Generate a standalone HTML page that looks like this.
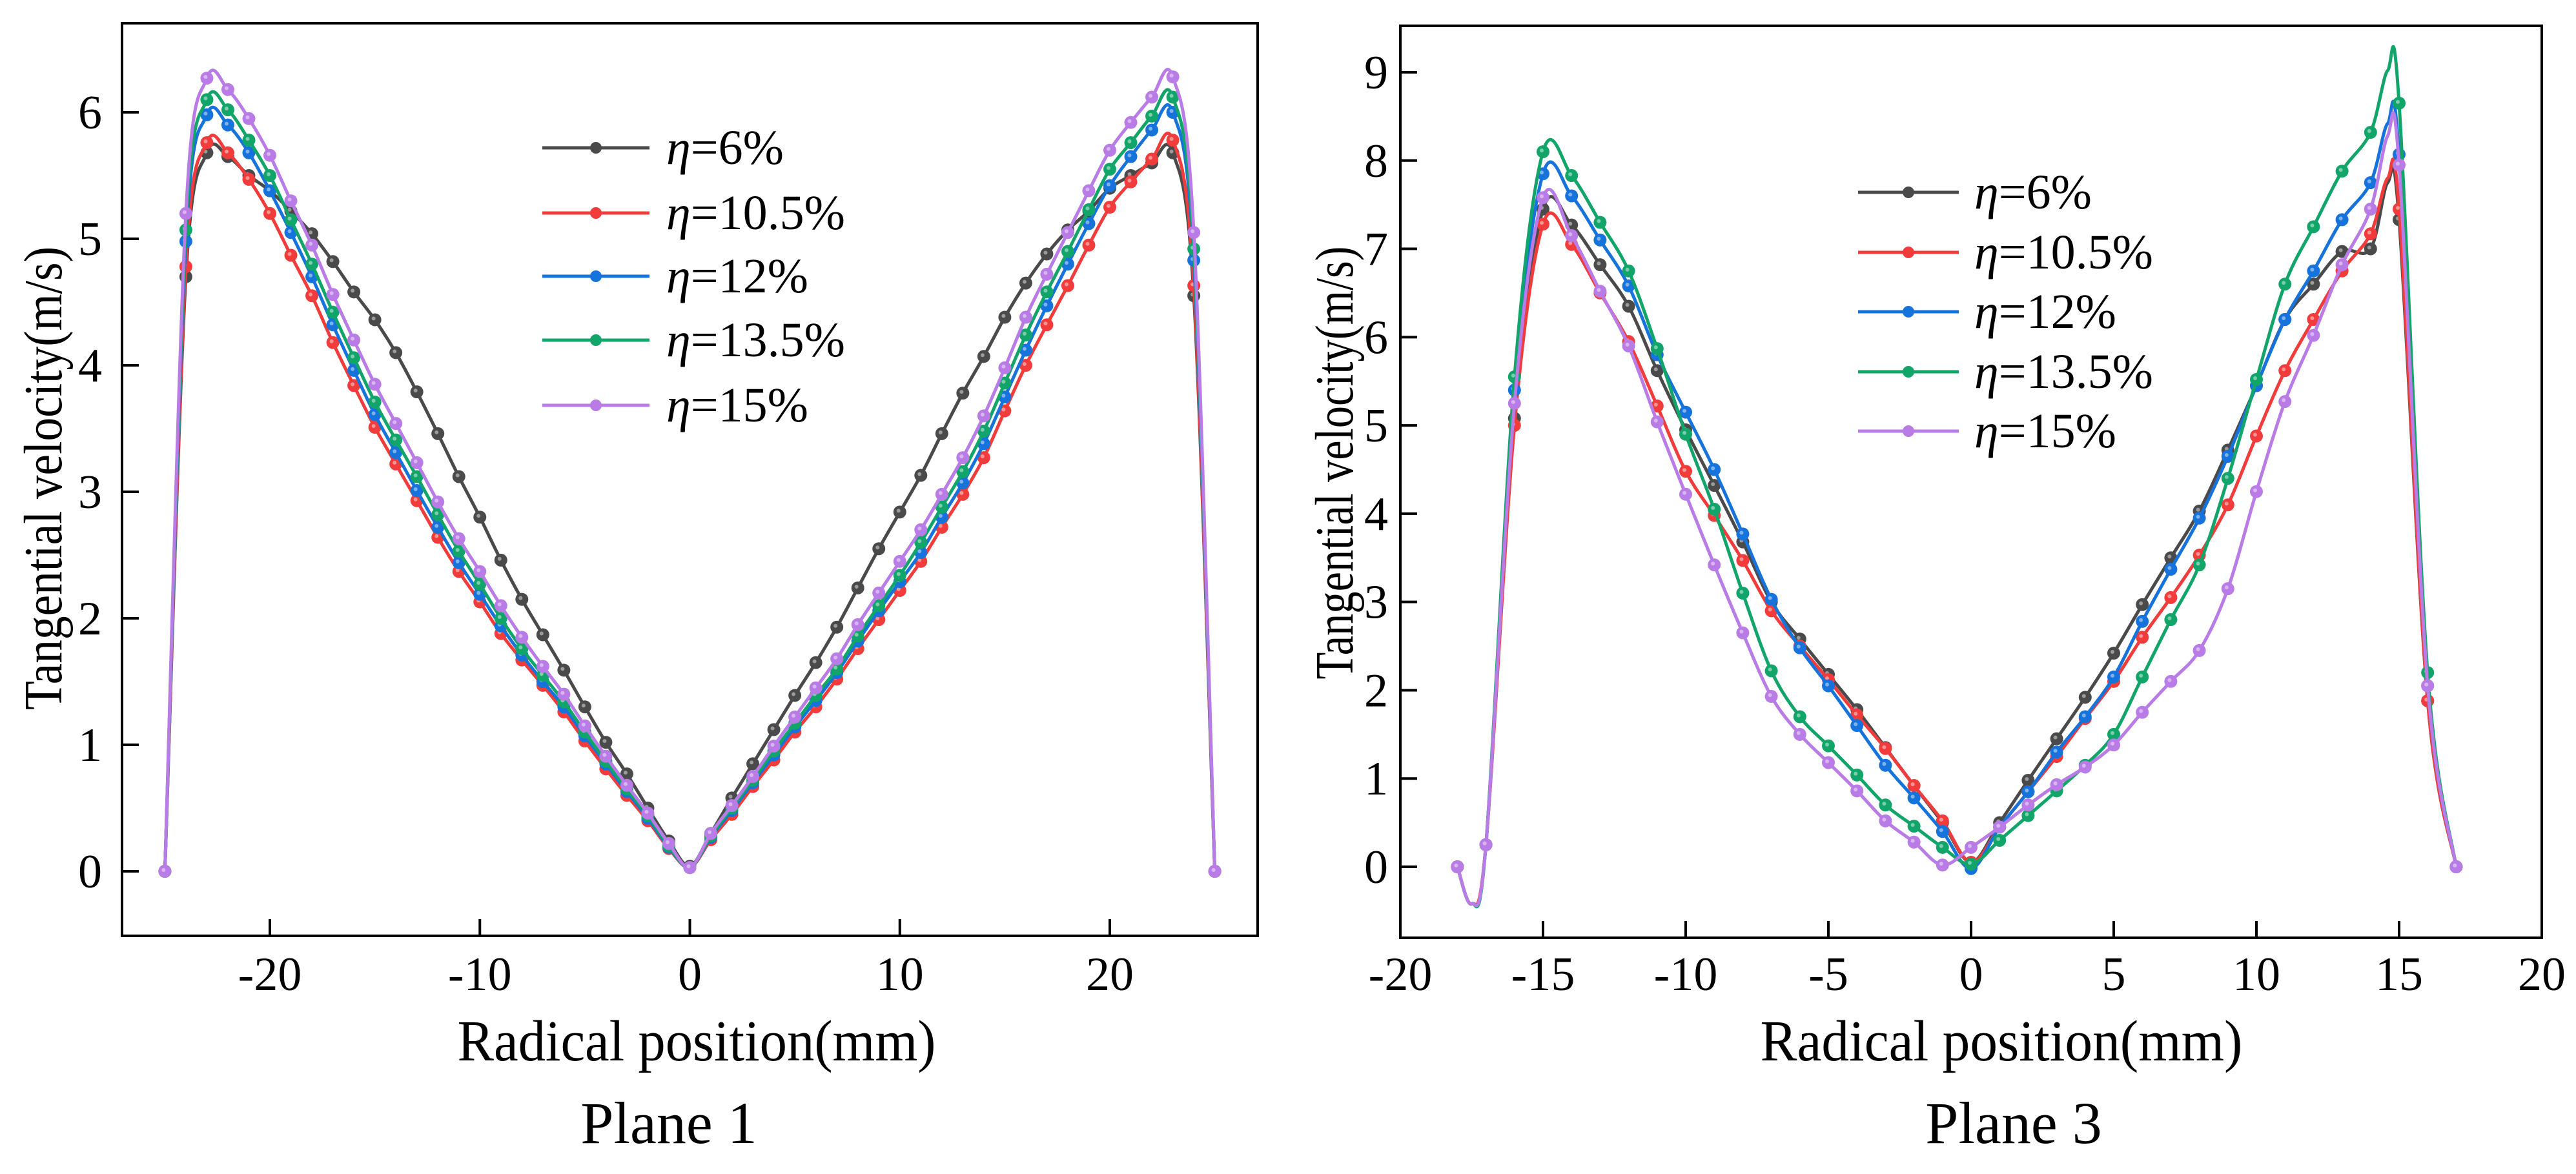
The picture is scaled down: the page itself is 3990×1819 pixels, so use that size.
<!DOCTYPE html>
<html><head><meta charset="utf-8">
<style>
html,body{margin:0;padding:0;background:#fff;}
svg{display:block;}
text{font-family:"Liberation Serif",serif;fill:#000;}
</style></head>
<body>
<svg id="chart" width="3990" height="1819" viewBox="0 0 3990 1819" xmlns="http://www.w3.org/2000/svg"></svg>
<script>
const NS="http://www.w3.org/2000/svg";
const svg=document.getElementById('chart');
const seriesNames=["η=6%","η=10.5%","η=12%","η=13.5%","η=15%"];
const seriesLabels=["6%","10.5%","12%","13.5%","15%"];
const seriesColors=["#4a4a4a","#f23c3c","#1673dc","#12a56a","#b97ce6"];

// Plane 1 data
const p1X=[-25,-24,-23,-22,-21,-20,-19,-18,-17,-16,-15,-14,-13,-12,-11,-10,-9,-8,-7,-6,-5,-4,-3,-2,-1,0,1,2,3,4,5,6,7,8,9,10,11,12,13,14,15,16,17,18,19,20,21,22,23,24,25];
const p1S1=[0,4.7,5.68,5.65,5.5,5.38,5.22,5.04,4.82,4.58,4.36,4.10,3.79,3.46,3.12,2.80,2.46,2.15,1.87,1.59,1.30,1.02,0.77,0.50,0.24,0.04,0.3,0.58,0.85,1.12,1.39,1.65,1.93,2.24,2.55,2.84,3.13,3.46,3.78,4.07,4.38,4.65,4.88,5.07,5.22,5.4,5.5,5.6,5.68,4.55,0];
const p1S2=[0,4.78,5.76,5.68,5.47,5.2,4.87,4.55,4.18,3.84,3.51,3.22,2.93,2.64,2.37,2.13,1.88,1.67,1.47,1.26,1.03,0.81,0.6,0.4,0.18,0.03,0.25,0.45,0.67,0.88,1.1,1.3,1.52,1.76,1.99,2.22,2.45,2.72,2.98,3.27,3.64,4.0,4.32,4.63,4.95,5.25,5.45,5.63,5.78,4.63,0];
const p1S3=[0,4.98,5.98,5.9,5.68,5.38,5.05,4.7,4.32,3.96,3.61,3.31,3.01,2.72,2.44,2.19,1.94,1.71,1.5,1.3,1.07,0.85,0.63,0.42,0.19,0.03,0.27,0.48,0.7,0.92,1.14,1.35,1.57,1.82,2.06,2.29,2.52,2.8,3.07,3.38,3.75,4.12,4.47,4.8,5.12,5.42,5.65,5.86,6.0,4.83,0];
const p1S4=[0,5.07,6.1,6.02,5.78,5.5,5.15,4.8,4.42,4.06,3.71,3.41,3.12,2.82,2.53,2.27,2.0,1.76,1.55,1.34,1.1,0.87,0.65,0.44,0.2,0.03,0.28,0.5,0.72,0.95,1.17,1.39,1.6,1.86,2.1,2.34,2.6,2.88,3.16,3.48,3.86,4.24,4.58,4.9,5.23,5.55,5.76,5.97,6.12,4.92,0];
const p1S5=[0,5.2,6.27,6.18,5.95,5.66,5.3,4.95,4.56,4.2,3.85,3.54,3.23,2.92,2.63,2.37,2.1,1.85,1.62,1.4,1.15,0.91,0.68,0.46,0.22,0.03,0.3,0.52,0.75,0.99,1.22,1.45,1.68,1.95,2.2,2.45,2.7,2.98,3.27,3.6,3.98,4.38,4.72,5.05,5.38,5.7,5.92,6.12,6.28,5.05,0];
const p1XTicks=[-20,-10,0,10,20];
const p1YTicks=[0,1,2,3,4,5,6];

// Plane 3 data
const p3X=[-18,-17.5,-17,-16,-15,-14,-13,-12,-11,-10,-9,-8,-7,-6,-5,-4,-3,-2,-1,0,1,2,3,4,5,6,7,8,9,10,11,12,13,14,14.6,15,16,17];
const p3S1=[0,-0.42,0.25,5.08,7.45,7.27,6.82,6.35,5.62,4.95,4.32,3.68,3.0,2.58,2.18,1.78,1.35,0.92,0.5,0.05,0.5,0.98,1.45,1.92,2.42,2.97,3.5,4.03,4.72,5.45,6.2,6.6,6.97,7.0,7.75,7.33,1.88,0];
const p3S2=[0,-0.42,0.25,5.0,7.28,7.05,6.5,5.95,5.22,4.48,3.98,3.47,2.9,2.5,2.12,1.72,1.34,0.92,0.52,0.05,0.45,0.85,1.25,1.68,2.1,2.6,3.05,3.53,4.1,4.88,5.62,6.2,6.75,7.17,7.8,7.45,1.88,0];
const p3S3=[0,-0.42,0.25,5.4,7.85,7.6,7.1,6.58,5.8,5.15,4.5,3.77,3.03,2.48,2.05,1.6,1.15,0.78,0.4,-0.02,0.45,0.85,1.3,1.7,2.15,2.78,3.37,3.95,4.65,5.45,6.2,6.75,7.33,7.75,8.42,8.07,2.05,0];
const p3S4=[0,-0.42,0.25,5.55,8.1,7.83,7.3,6.75,5.87,4.9,4.05,3.1,2.22,1.7,1.37,1.04,0.7,0.46,0.22,0.03,0.3,0.58,0.86,1.15,1.5,2.15,2.8,3.42,4.4,5.52,6.6,7.25,7.88,8.32,9.02,8.65,2.2,0];
const p3S5=[0,-0.42,0.25,5.25,7.58,7.15,6.52,5.9,5.04,4.22,3.42,2.65,1.93,1.5,1.18,0.86,0.52,0.28,0.02,0.22,0.45,0.7,0.93,1.13,1.38,1.75,2.1,2.45,3.15,4.25,5.27,6.02,6.82,7.45,8.28,7.95,2.05,0];
const p3XTicks=[-20,-15,-10,-5,0,5,10,15,20];
const p3YTicks=[0,1,2,3,4,5,6,7,8,9];

function el(tag,attrs,parent){const e=document.createElementNS(NS,tag);for(const k in attrs)e.setAttribute(k,attrs[k]);(parent||svg).appendChild(e);return e;}

function smoothPath(pts){
  let d="M"+pts[0][0].toFixed(1)+","+pts[0][1].toFixed(1);
  for(let i=0;i<pts.length-1;i++){
    const p0=pts[Math.max(0,i-1)],p1=pts[i],p2=pts[i+1],p3=pts[Math.min(pts.length-1,i+2)];
    const t=6;
    const c1=[p1[0]+(p2[0]-p0[0])/t,p1[1]+(p2[1]-p0[1])/t];
    const c2=[p2[0]-(p3[0]-p1[0])/t,p2[1]-(p3[1]-p1[1])/t];
    d+=" C"+c1[0].toFixed(1)+","+c1[1].toFixed(1)+" "+c2[0].toFixed(1)+","+c2[1].toFixed(1)+" "+p2[0].toFixed(1)+","+p2[1].toFixed(1);
  }
  return d;
}

function drawPanel(cfg){
  const g=el('g',{});
  
  
  const sx=v=>cfg.x0px+(v-cfg.xa)*(cfg.x1px-cfg.x0px)/(cfg.xb-cfg.xa);
  const sy=v=>cfg.y0px+(v-cfg.ya)*(cfg.y1px-cfg.y0px)/(cfg.yb-cfg.ya);
  cfg.series.forEach((ys,si)=>{
    const sg=el('g',{},g);
    
    
    const pts=cfg.xs.map((x,i)=>[sx(x),sy(ys[i])]);
    const p=el('path',{d:smoothPath(pts),fill:'none',stroke:seriesColors[si],'stroke-width':5,'stroke-linejoin':'round'},sg);
    
    
    cfg.xs.forEach((x,i)=>{
      if(!Number.isInteger(x))return;
      const c=el('circle',{cx:sx(x),cy:sy(ys[i]),r:10,fill:seriesColors[si]},sg);
      
      
      el('circle',{cx:sx(x)-2,cy:sy(ys[i])-2,r:3,fill:'#fff','fill-opacity':0.45},sg);
    });
  });
  const fr=el('rect',{x:cfg.fx0,y:cfg.fy0,width:cfg.fx1-cfg.fx0,height:cfg.fy1-cfg.fy0,fill:'none',stroke:'#000','stroke-width':4},g);
  
  
  cfg.xticks.forEach(t=>{
    const x=sx(t);
    el('line',{x1:x,x2:x,y1:cfg.fy1,y2:cfg.fy1-26,stroke:'#000','stroke-width':4},g);
    const tx=el('text',{x:x,y:1534,'font-size':74,'text-anchor':'middle'},g);
    tx.textContent=t;
    
    
  });
  cfg.yticks.forEach(t=>{
    const y=sy(t);
    el('line',{x1:cfg.fx0,x2:cfg.fx0+26,y1:y,y2:y,stroke:'#000','stroke-width':4},g);
    const tx=el('text',{x:cfg.ylabX,y:y+25,'font-size':74,'text-anchor':'end'},g);
    tx.textContent=t;
    
    
  });
  const xt=el('text',{x:cfg.xtitleX,y:1643,'font-size':90,'text-anchor':'middle',textLength:cfg.xtitleLen,lengthAdjust:'spacingAndGlyphs'},g);
  xt.textContent="Radical position(mm)";
  
  
  const yt=el('text',{x:0,y:0,'font-size':84,'text-anchor':'middle',textLength:cfg.ytitleLen,lengthAdjust:'spacingAndGlyphs',transform:'translate('+cfg.ytitleX+','+cfg.ytitleY+') rotate(-90)'},g);
  yt.textContent="Tangential velocity(m/s)";
  
  
  const pt=el('text',{x:cfg.planeX,y:1771,'font-size':92,'text-anchor':'middle'},g);
  pt.textContent=cfg.planeLabel;
  
  
  const lg=el('g',{},g);
  
  
  cfg.legY.forEach((y,i)=>{
    const eg=el('g',{},lg);
    
    
    el('line',{x1:cfg.legX0,x2:cfg.legX1,y1:y,y2:y,stroke:seriesColors[i],'stroke-width':5},eg);
    el('circle',{cx:(cfg.legX0+cfg.legX1)/2,cy:y,r:9,fill:seriesColors[i]},eg);
    const t=el('text',{x:cfg.legTx,y:y+25,'font-size':76},eg);
    const e1=el('tspan',{'font-style':'italic'},t);e1.textContent="η";
    const e2=el('tspan',{},t);e2.textContent="="+seriesLabels[i];
  });
}

drawPanel({name:'plane-1-chart',xs:p1X,series:[p1S1,p1S2,p1S3,p1S4,p1S5],
  xa:-20,xb:20,x0px:418,x1px:1719,ya:0,yb:6,y0px:1350,y1px:174,
  fx0:189,fx1:1948,fy0:36,fy1:1450,xticks:p1XTicks,yticks:p1YTicks,ylabX:158,
  xtitleX:1079,xtitleLen:741,ytitleX:95,ytitleY:741,ytitleLen:718,planeX:1036,planeLabel:"Plane 1",
  legY:[229,330,428,527,628],legX0:840,legX1:1006,legTx:1032});
drawPanel({name:'plane-3-chart',xs:p3X,series:[p3S1,p3S2,p3S3,p3S4,p3S5],
  xa:-20,xb:20,x0px:2169,x1px:3937,ya:0,yb:9,y0px:1343,y1px:112,
  fx0:2169,fx1:3937,fy0:40,fy1:1453,xticks:p3XTicks,yticks:p3YTicks,ylabX:2150,
  xtitleX:3100,xtitleLen:747,ytitleX:2095,ytitleY:717,ytitleLen:671,planeX:3119,planeLabel:"Plane 3",
  legY:[298,391,483,576,668],legX0:2878,legX1:3034,legTx:3058});
</script>
</body></html>
